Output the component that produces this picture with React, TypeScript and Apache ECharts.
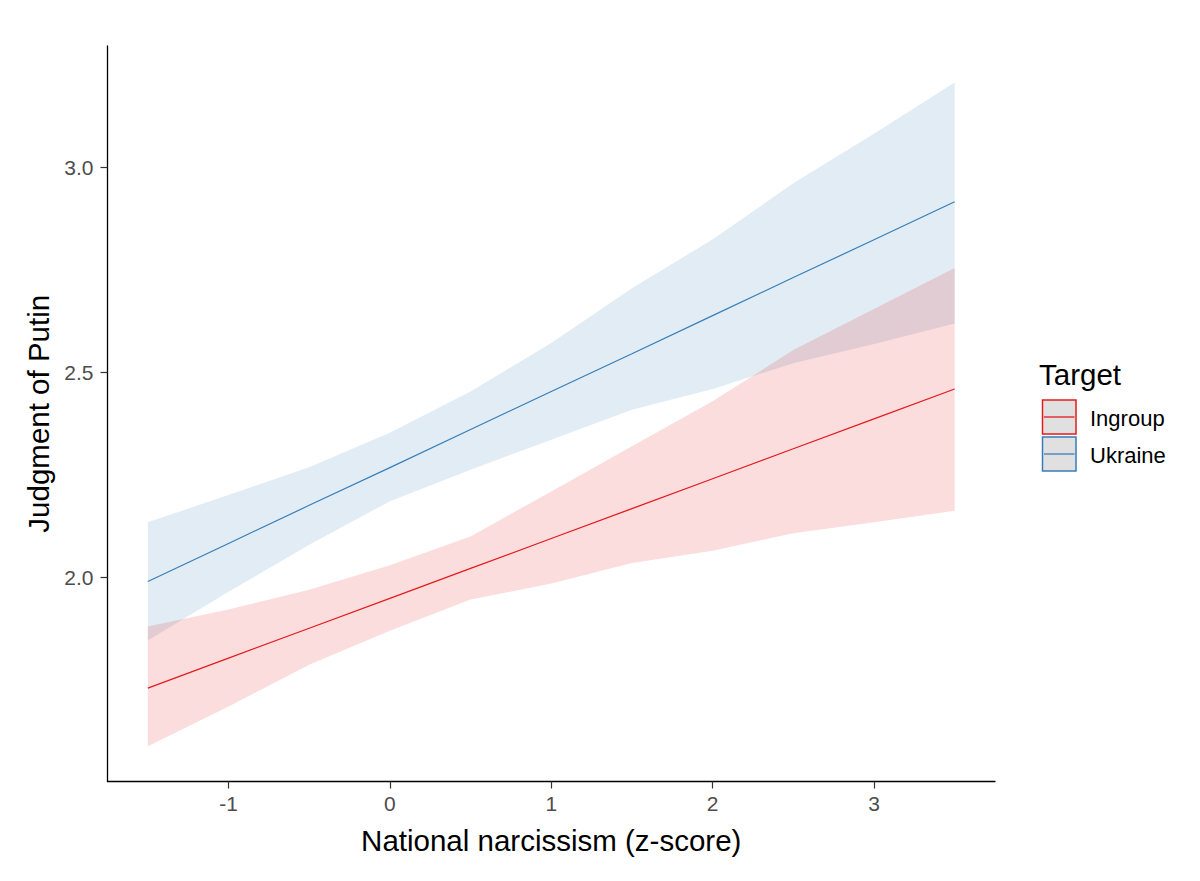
import React, { useEffect, useRef } from "react";
import * as echarts from "echarts";

// x values at which the fitted lines and confidence ribbons were evaluated
const xValues = [-1.5, -1, -0.5, 0, 0.5, 1, 1.5, 2, 2.5, 3, 3.5];

// Ukraine
const ukraineFit = [1.99, 2.083, 2.176, 2.268, 2.361, 2.454, 2.546, 2.639, 2.732, 2.824, 2.917];
const ukraineUpper = [2.135, 2.201, 2.269, 2.353, 2.454, 2.572, 2.706, 2.825, 2.962, 3.083, 3.208];
const ukraineLower = [1.846, 1.965, 2.08, 2.186, 2.263, 2.336, 2.409, 2.46, 2.523, 2.57, 2.62];

// Ingroup
const ingroupFit = [1.73, 1.803, 1.876, 1.949, 2.022, 2.095, 2.168, 2.241, 2.314, 2.387, 2.46];
const ingroupUpper = [1.88, 1.922, 1.97, 2.03, 2.1, 2.21, 2.32, 2.43, 2.555, 2.655, 2.755];
const ingroupLower = [1.588, 1.685, 1.787, 1.87, 1.946, 1.985, 2.035, 2.065, 2.108, 2.135, 2.163];

const xTicks = [-1, 0, 1, 2, 3];
const yTicks = [2.0, 2.5, 3.0];
const legendNames = ["Ingroup", "Ukraine"];
const legendTitle = "Target";
const xTitle = "National narcissism (z-score)";
const yTitle = "Judgment of Putin";

const RED = "#E41A1C";
const BLUE = "#377EB8";

const pairs = (ys: number[]) => xValues.map((x, i) => [x, ys[i]]);

function ribbon(name: string, lo: number[], hi: number[], fill: string) {
  return {
    type: "custom",
    name: name + "-ribbon",
    silent: true,
    z: 1,
    data: xValues.map((x, i) => [x, lo[i], hi[i]]),
    encode: { x: 0, y: [1, 2] },
    renderItem: (params: any, api: any) => {
      if (params.dataIndex !== 0) return null;
      const upper = xValues.map((x, i) => api.coord([x, hi[i]]));
      const lower = xValues.map((x, i) => api.coord([x, lo[i]])).reverse();
      return {
        type: "polygon",
        shape: { points: upper.concat(lower) },
        style: { fill, stroke: null },
      };
    },
  };
}

export default function App() {
  const ref = useRef<HTMLDivElement>(null);
  useEffect(() => {
    document.body.style.margin = "0";
    if (!ref.current) return;
    const chart = echarts.init(ref.current, null, { renderer: "svg" });
    const font = "Liberation Sans, Arial, sans-serif";
    const legendItems: any[] = [];
    const colors = [RED, BLUE];
    legendNames.forEach((n, i) => {
      const top = 400 + i * 37;
      legendItems.push(
        {
          type: "rect",
          shape: { x: 1042.5, y: top, width: 33.5, height: 34 },
          style: { fill: "#E0E0E0", stroke: colors[i], lineWidth: 1.5 },
        },
        {
          type: "line",
          shape: { x1: 1044, y1: top + 17, x2: 1074.5, y2: top + 17 },
          style: { stroke: colors[i], lineWidth: 1.3 },
        },
        {
          type: "text",
          x: 1090,
          y: top + 18,
          style: { text: n, font: `22px ${font}`, fill: "#000", verticalAlign: "middle", align: "left" },
        }
      );
    });
    chart.setOption({
      animation: false,
      backgroundColor: "#fff",
      grid: { left: 107.5, right: 205, top: 46, bottom: 99.5, containLabel: false },
      xAxis: {
        type: "value",
        min: -1.75,
        max: 3.75,
        name: xTitle,
        nameLocation: "middle",
        nameGap: 44,
        nameTextStyle: { fontSize: 29.5, color: "#000", fontFamily: font },
        splitLine: { show: false },
        axisLine: { onZero: false, lineStyle: { color: "#000", width: 1.3 } },
        axisTick: { length: 7, lineStyle: { color: "#333", width: 1.2 }, customValues: xTicks },
        axisLabel: {
          customValues: xTicks,
          fontSize: 21,
          color: "#4D4D4D",
          fontFamily: font,
          margin: 11,
          formatter: (v: number) => String(v),
        },
      },
      yAxis: {
        type: "value",
        min: 1.502,
        max: 3.297,
        name: yTitle,
        nameLocation: "middle",
        nameGap: 53,
        nameRotate: 90,
        nameTextStyle: { fontSize: 29.5, color: "#000", fontFamily: font },
        splitLine: { show: false },
        axisLine: { show: true, onZero: false, lineStyle: { color: "#000", width: 1.3 } },
        axisTick: { show: true, length: 7, lineStyle: { color: "#333", width: 1.2 }, customValues: yTicks },
        axisLabel: {
          customValues: yTicks,
          fontSize: 21,
          color: "#4D4D4D",
          fontFamily: font,
          margin: 14,
          formatter: (v: number) => v.toFixed(1),
        },
      },
      series: [
        ribbon("Ukraine", ukraineLower, ukraineUpper, "rgba(55,126,184,0.15)"),
        ribbon("Ingroup", ingroupLower, ingroupUpper, "rgba(228,26,28,0.15)"),
        {
          type: "line",
          name: "Ingroup",
          data: pairs(ingroupFit),
          showSymbol: false,
          symbol: "none",
          lineStyle: { color: RED, width: 1.2 },
          z: 3,
        },
        {
          type: "line",
          name: "Ukraine",
          data: pairs(ukraineFit),
          showSymbol: false,
          symbol: "none",
          lineStyle: { color: BLUE, width: 1.2 },
          z: 3,
        },
      ],
      graphic: [
        {
          type: "text",
          x: 1039,
          y: 374,
          style: { text: legendTitle, font: `29.5px ${font}`, fill: "#000", verticalAlign: "middle", align: "left" },
        },
        ...legendItems,
      ],
    });
    return () => chart.dispose();
  }, []);
  return <div ref={ref} style={{ width: 1200, height: 881 }} />;
}
